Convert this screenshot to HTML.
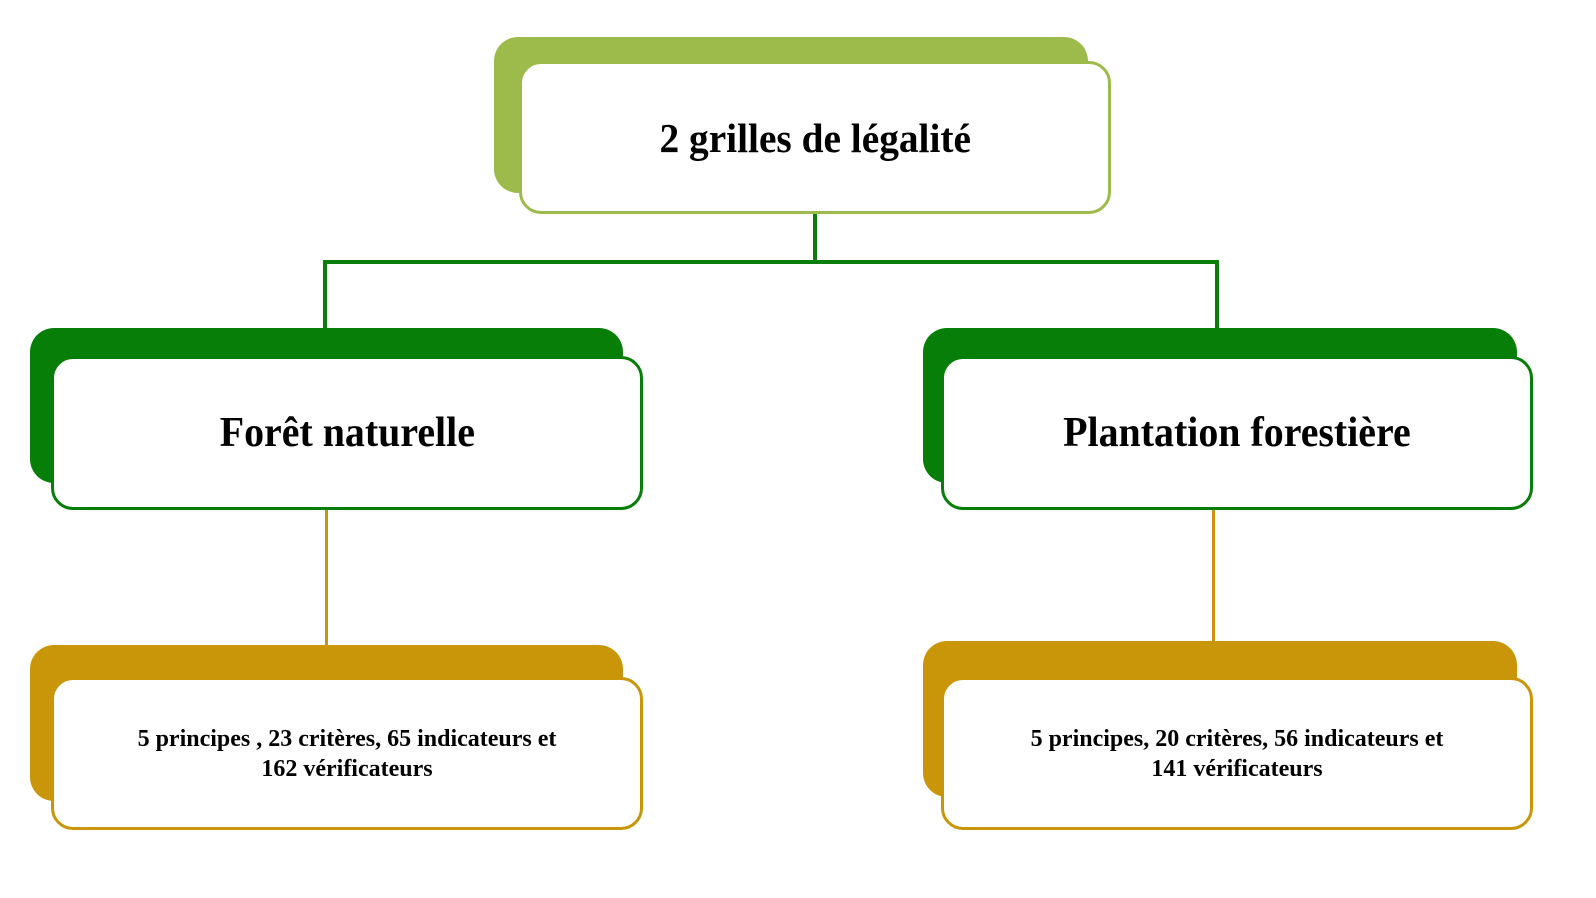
<!DOCTYPE html>
<html><head><meta charset="utf-8"><style>
body{margin:0;width:1596px;height:898px;background:#fff;position:relative;overflow:hidden;font-family:"Liberation Serif",serif;font-weight:bold;color:#000}
.b{position:absolute;border-radius:24px}
.f{position:absolute;background:#fff;border-radius:22px;box-sizing:border-box;display:flex;align-items:center;justify-content:center;text-align:center}
.t{display:inline-block;white-space:nowrap}
.l{position:absolute}
</style></head><body>
<div class="b" style="left:494px;top:37px;width:594px;height:156px;background:#9dbb4b"></div>
<div class="f" style="left:519px;top:61px;width:592px;height:153px;border:3px solid #9dbb4b"><span class="t" style="font-size:41px;transform:scaleX(0.96)">2 grilles de légalité</span></div>

<div class="l" style="left:813px;top:214px;width:4px;height:49px;background:#0a7d0a"></div>
<div class="l" style="left:323px;top:260px;width:896px;height:4px;background:#0a7d0a"></div>
<div class="l" style="left:323px;top:260px;width:4px;height:68px;background:#0a7d0a"></div>
<div class="l" style="left:1215px;top:260px;width:4px;height:68px;background:#0a7d0a"></div>

<div class="b" style="left:30px;top:328px;width:593px;height:155px;background:#077e07"></div>
<div class="f" style="left:51px;top:356px;width:592px;height:154px;border:3px solid #077e07"><span class="t" style="font-size:42px;transform:scaleX(0.95)">Forêt naturelle</span></div>
<div class="b" style="left:923px;top:328px;width:594px;height:155px;background:#077e07"></div>
<div class="f" style="left:941px;top:356px;width:592px;height:154px;border:3px solid #077e07"><span class="t" style="font-size:42px;transform:scaleX(0.95)">Plantation forestière</span></div>

<div class="l" style="left:325px;top:510px;width:3px;height:136px;background:#c9960a"></div>
<div class="l" style="left:1212px;top:510px;width:3px;height:132px;background:#c9960a"></div>

<div class="b" style="left:30px;top:645px;width:593px;height:156px;background:#c9960a"></div>
<div class="f" style="left:51px;top:677px;width:592px;height:153px;border:3px solid #c9960a"><span class="t" style="font-size:24px;line-height:30px">5 principes , 23 critères, 65 indicateurs et<br>162 vérificateurs</span></div>
<div class="b" style="left:923px;top:641px;width:594px;height:156px;background:#c9960a"></div>
<div class="f" style="left:941px;top:677px;width:592px;height:153px;border:3px solid #c9960a"><span class="t" style="font-size:24px;line-height:30px">5 principes, 20 critères, 56 indicateurs et<br>141 vérificateurs</span></div>
</body></html>
